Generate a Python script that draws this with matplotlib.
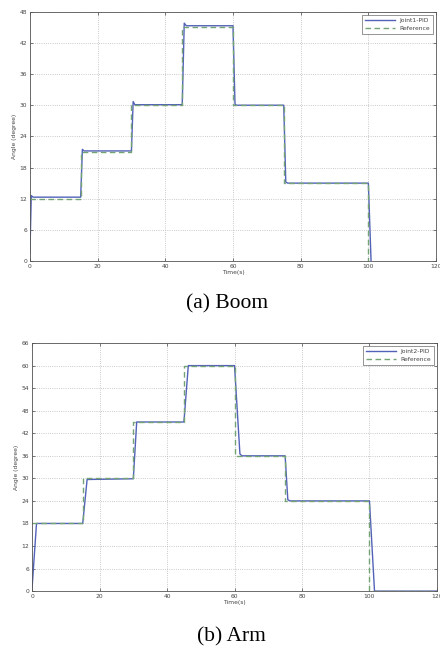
import matplotlib
matplotlib.use("Agg")
import matplotlib.pyplot as plt

# ---- data ----
boom_ref_t = [0, 15, 30, 45, 60, 75, 100]
boom_ref_y = [12, 21, 30, 45, 30, 15, 0]
boom_pid_t = [0, 0.4, 0.9, 15.0, 15.5, 16.0, 30.0, 30.5, 31.0, 45.0, 45.6, 46.2,
              60.0, 60.6, 61.0, 75.0, 75.6, 76.2, 100.0, 100.8]
boom_pid_y = [1.5, 12.6, 12.3, 12.3, 21.5, 21.2, 21.2, 30.7, 30.1, 30.1, 45.8, 45.3,
              45.3, 30.2, 30.0, 30.0, 15.2, 15.0, 15.0, 0]

arm_ref_t = [0, 15, 30, 45, 60, 75, 100, 120]
arm_ref_y = [18, 30, 45, 60, 36, 24, 0, 0]
arm_pid_t = [0, 1.3, 15.0, 16.3, 30.0, 31.0, 45.0, 46.3, 60.0, 61.6, 62.2,
             75.0, 75.8, 76.5, 100.0, 101.5, 120]
arm_pid_y = [1.0, 18, 18, 29.7, 29.9, 45, 45, 60, 60, 36.5, 36, 36, 24.3, 24, 24, 0, 0]

xticks = [0, 20, 40, 60, 80, 100, 120]
boom_yticks = [0, 6, 12, 18, 24, 30, 36, 42, 48]
arm_yticks = [0, 6, 12, 18, 24, 30, 36, 42, 48, 54, 60, 66]

PID_C = '#5362b8'
REF_C = '#74a474'
FS = 4.3

fig = plt.figure(figsize=(4.4, 6.51), dpi=100)

def setup(ax, pid_t, pid_y, ref_t, ref_y, yticks, pid_label):
    ax.plot(pid_t, pid_y, color=PID_C, lw=1.0, label=pid_label)
    ax.plot(ref_t, ref_y, color=REF_C, lw=1.0, ls=(0, (4, 2.5)), drawstyle='steps-post',
            label='Reference')
    ax.set_xlim(0, 120)
    ax.set_ylim(yticks[0], yticks[-1])
    ax.set_xticks(xticks)
    ax.set_yticks(yticks)
    ax.grid(True, ls=':', color='#b8b8b8', lw=0.6)
    ax.tick_params(direction='in', length=2, width=0.5, labelsize=FS, colors='#444444',
                   pad=2, top=True, right=True)
    for s in ax.spines.values():
        s.set_linewidth(0.6)
        s.set_color('#555555')
    ax.set_xlabel('Time(s)', fontsize=FS, color='#444444', labelpad=1)
    ax.set_ylabel('Angle (degree)', fontsize=FS, color='#444444', labelpad=2)
    leg = ax.legend(loc='upper right', fontsize=FS, frameon=True, fancybox=False,
                    handlelength=5, borderpad=0.5, labelspacing=0.5,
                    borderaxespad=0.5)
    leg.get_frame().set_edgecolor('#444444')
    leg.get_frame().set_linewidth(0.5)
    for t in leg.get_texts():
        t.set_color('#444444')

ax1 = fig.add_axes([0.068, 0.599, 0.923, 0.383])
setup(ax1, boom_pid_t, boom_pid_y, boom_ref_t, boom_ref_y, boom_yticks, 'Joint1-PID')

ax2 = fig.add_axes([0.073, 0.092, 0.920, 0.381])
setup(ax2, arm_pid_t, arm_pid_y, arm_ref_t, arm_ref_y, arm_yticks, 'Joint2-PID')

fig.text(0.515, 0.533, '(a) Boom', ha='center', va='center', fontsize=15.5,
         family='Liberation Serif')
fig.text(0.525, 0.022, '(b) Arm', ha='center', va='center', fontsize=15.5,
         family='Liberation Serif')

fig.savefig('out.png', dpi=100)
